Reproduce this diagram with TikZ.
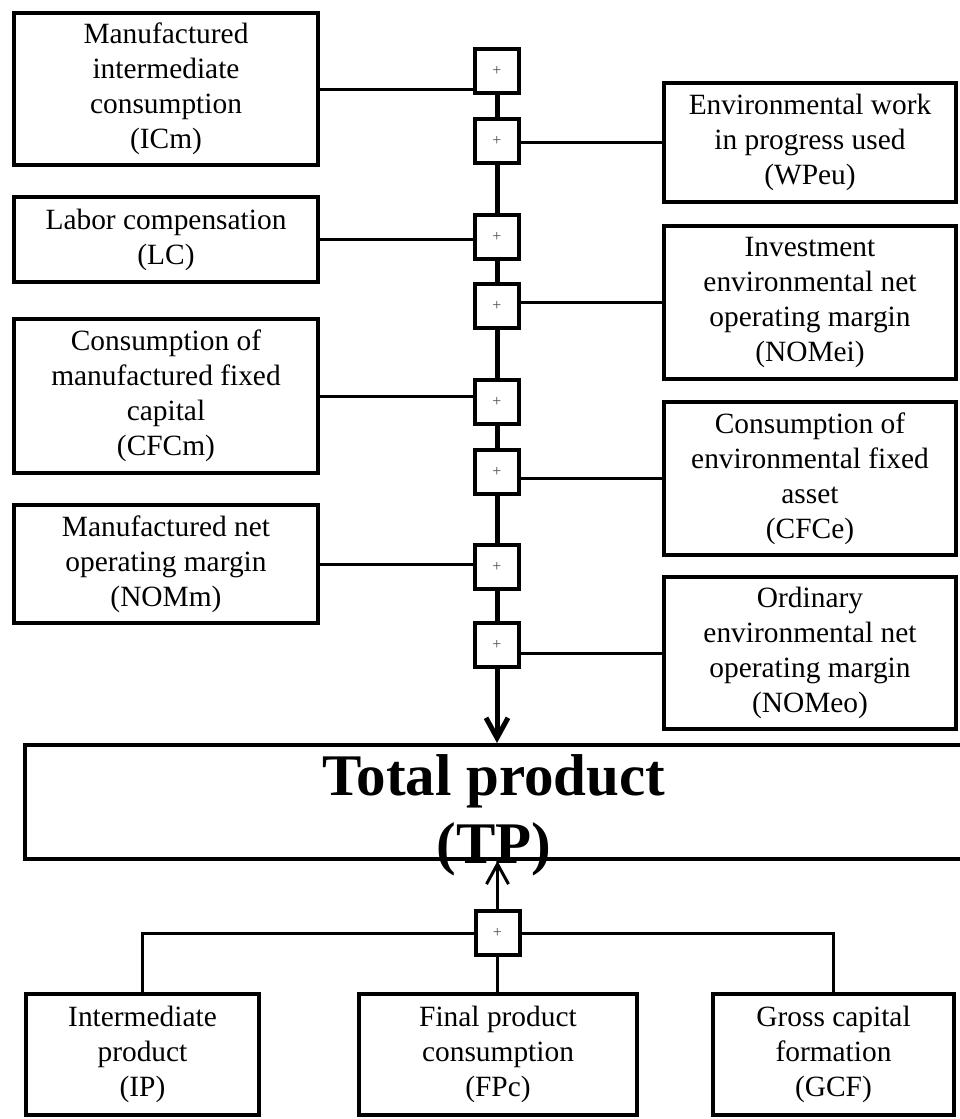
\documentclass[tikz,border=0pt]{standalone}
\usepackage{fontspec}
\setmainfont{Liberation Serif}
\usetikzlibrary{positioning,arrows.meta}

\begin{document}
\begin{tikzpicture}[x=0.5pt,y=-0.5pt,
  box/.style={draw, line width=2pt, align=center, inner sep=0pt, font=\fontsize{14.7}{17.5}\selectfont},
  lbox/.style={box, minimum width=152pt},
  rbox/.style={box, minimum width=146pt},
  bbox/.style={box, minimum height=60.5pt},
  plus/.style={draw, line width=2pt, minimum size=22pt, inner sep=0pt, text=black!70, font=\fontsize{8}{8}\selectfont},
  link/.style={line width=1.5pt},
  trunk/.style={line width=2.5pt},
  tip/.style={-{Straight Barb[length=10pt,width=11pt]}}]
\useasboundingbox (0,0) rectangle (959,1119);

% left column
\node[lbox, minimum height=76pt](icm) at (166,89) {Manufactured\\intermediate\\consumption\\(ICm)};
\node[lbox, minimum height=42.5pt](lc) at (166,239.5) {Labor compensation\\(LC)};
\node[lbox, minimum height=77pt](cfcm) at (166,396) {Consumption of\\manufactured fixed\\capital\\(CFCm)};
\node[lbox, minimum height=59pt](nomm) at (166,564) {Manufactured net\\operating margin\\(NOMm)};

% right column
\node[rbox, minimum height=59.5pt](wpeu) at (810,142.5) {Environmental work\\in progress used\\(WPeu)};
\node[rbox, minimum height=76.5pt](nomei) at (810,302.5) {Investment\\environmental net\\operating margin\\(NOMei)};
\node[rbox, minimum height=76.5pt](cfce) at (810,478.5) {Consumption of\\environmental fixed\\asset\\(CFCe)};
\node[rbox, minimum height=76pt](nomeo) at (810,653) {Ordinary\\environmental net\\operating margin\\(NOMeo)};

% adders
\foreach \n/\y in {1/71,2/141,3/236.5,4/306,5/402,6/471.5,7/567,8/645}
  \node[plus](p\n) at (497,\y) {+};
\foreach \a/\b in {1/2,2/3,3/4,4/5,5/6,6/7,7/8}
  \draw[trunk] (p\a) -- (p\b);

% total
\node[draw, line width=2pt, minimum width=469pt, minimum height=57pt](tp) at (494,802) {};
\node[font=\bfseries\fontsize{29.5}{34}\selectfont, align=center, inner sep=0pt](tptext) at (494,815) {Total product\\(TP)};
\draw[trunk, tip] (p8.south) -- (p8.south |- tp.north);

\draw[link] (icm.east) -- (icm.east -| p1.west);
\draw[link] (lc.east) -- (lc.east -| p3.west);
\draw[link] (cfcm.east) -- (cfcm.east -| p5.west);
\draw[link] (nomm.east) -- (nomm.east -| p7.west);
\draw[link] (wpeu.west) -- (wpeu.west -| p2.east);
\draw[link] (nomei.west) -- (nomei.west -| p4.east);
\draw[link] (cfce.west) -- (cfce.west -| p6.east);
\draw[link] (nomeo.west) -- (nomeo.west -| p8.east);

% uses
\node[plus](pb) at (497.5,933) {+};
\node[bbox, minimum width=116.5pt](ip) at (142.5,1054.5) {Intermediate\\product\\(IP)};
\node[bbox, minimum width=139pt](fpc) at (498,1054.5) {Final product\\consumption\\(FPc)};
\node[bbox, minimum width=120.5pt](gcf) at (833.5,1054.5) {Gross capital\\formation\\(GCF)};

\draw[link] (pb.west) -| (ip.north);
\draw[link] (pb.east) -| (gcf.north);
\draw[link] (pb.south) -- (pb.south |- fpc.north);
\draw[link, tip] (pb.north) -- (pb.north |- tp.south);
\end{tikzpicture}
\end{document}
